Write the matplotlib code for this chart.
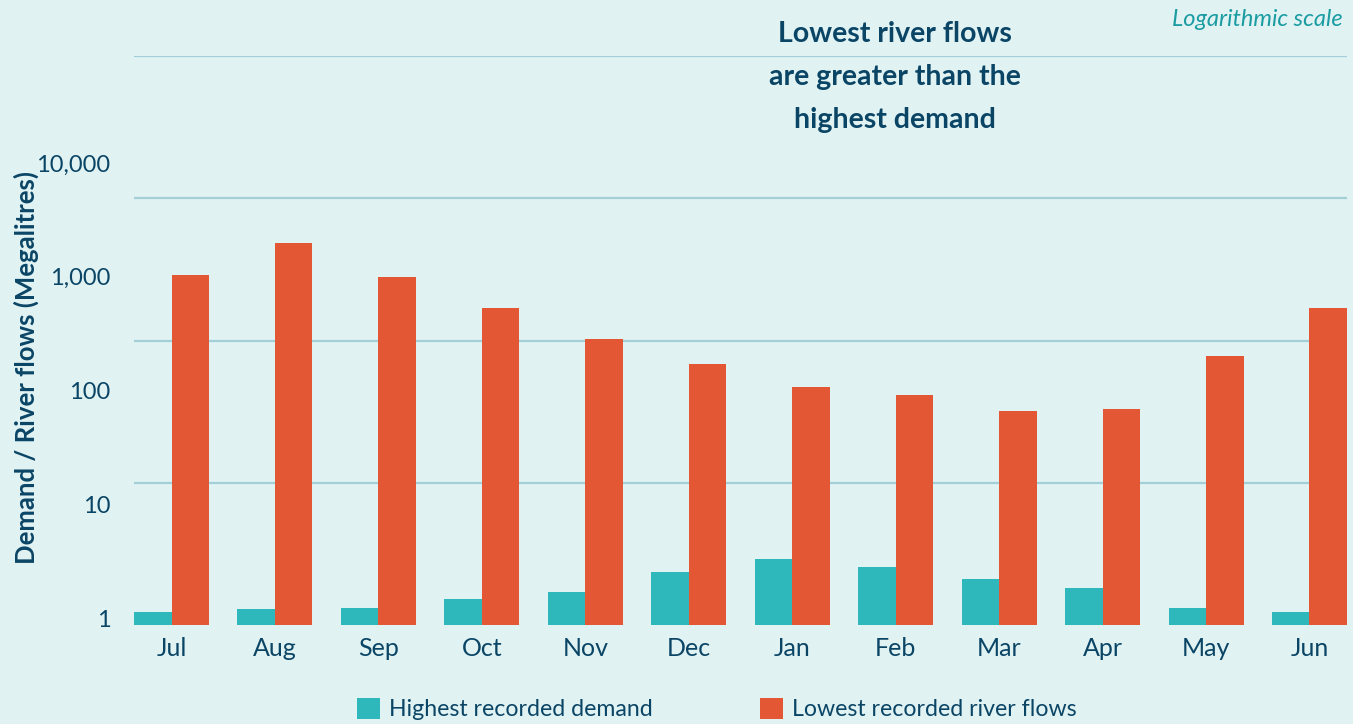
import numpy as np
import matplotlib
matplotlib.use("Agg")
import matplotlib.pyplot as plt
from matplotlib.transforms import ScaledTranslation

# data (megalitres)
months = ["Jul", "Aug", "Sep", "Oct", "Nov", "Dec",
          "Jan", "Feb", "Mar", "Apr", "May", "Jun"]
demand = [1.30, 1.38, 1.41, 1.69, 1.95, 2.92, 3.80, 3.23, 2.54, 2.11, 1.41, 1.30]
river_flows = [1190, 2275, 1143, 610, 326, 197, 123, 105, 76, 79, 231, 610]
ytick_vals = [1, 10, 100, 1000, 10000]
ytick_labels = ["1", "10", "100", "1,000", "10,000"]

BG = "#E0F2F2"
TEAL = "#2EB8BC"
RED = "#E35735"
NAVY = "#0B4566"
GRID = "#A3D0D8"

plt.rcParams['font.family'] = ['Lato', 'DejaVu Sans']

fig = plt.figure(figsize=(13.53, 7.24), dpi=100, facecolor=BG)
ax = fig.add_axes([134 / 1353, 1 - 625 / 724, (1347 - 134) / 1353, (625 - 56) / 724])
ax.set_facecolor(BG)

x = np.arange(len(months))
w = 0.3625
ax.bar(x - w / 2, demand, width=w, color=TEAL, zorder=3,
       label="Highest recorded demand")
ax.bar(x + w / 2, river_flows, width=w, color=RED, zorder=3,
       label="Lowest recorded river flows")

ax.set_yscale("log")
ax.set_ylim(1, 1e5)
ax.set_xlim(-w, len(months) - 1 + w)

# labelled decades, unlabelled grid lines splitting the axis in four
ax.set_yticks(ytick_vals)
ax.set_yticklabels(ytick_labels)
ax.set_yticks(np.logspace(0, 5, 5), minor=True)
ax.yaxis.set_minor_formatter(plt.NullFormatter())
ax.grid(axis="y", which="minor", color=GRID, linewidth=1.6, zorder=0)
ax.grid(axis="y", which="major", visible=False)
ax.tick_params(axis="y", which="both", length=0, pad=17, labelsize=17, labelcolor=NAVY)
for lab in ax.get_yticklabels():
    lab.set_transform(lab.get_transform() + ScaledTranslation(0, 5 / 72, fig.dpi_scale_trans))

ax.set_xticks(x)
ax.set_xticklabels(months)
ax.tick_params(axis="x", length=0, pad=9, labelsize=18, labelcolor=NAVY)

for s in ax.spines.values():
    s.set_visible(False)

ax.set_ylabel("Demand / River flows (Megalitres)", fontsize=18.5, fontweight="bold",
              color=NAVY)
ax.yaxis.set_label_coords(39 / 1353, 1 - 368 / 724, transform=fig.transFigure)

title_lines = ["Lowest river flows", "are greater than the", "highest demand"]
for i, line in enumerate(title_lines):
    fig.text(895 / 1353, 1 - (34 + 43 * i) / 724, line, ha="center", va="center",
             fontsize=20.5, fontweight="bold", color=NAVY)

fig.text(1343 / 1353, 1 - 20 / 724, "Logarithmic scale", ha="right", va="center",
         fontsize=17, style="italic", color="#1A9CA2")

fig.legend(loc="center", bbox_to_anchor=(717 / 1353, 1 - 709 / 724), ncol=2,
           frameon=False, fontsize=16.7, labelcolor=NAVY, handlelength=1.0,
           handleheight=1.0, handletextpad=0.4, columnspacing=4.6)

fig.savefig("out.png", dpi=100, facecolor=BG)
